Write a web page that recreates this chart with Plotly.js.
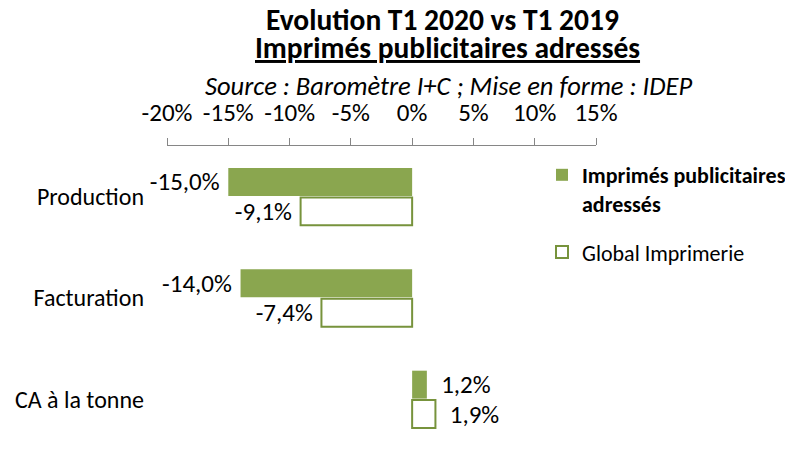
<!DOCTYPE html>
<html>
<head>
<meta charset="utf-8">
<script src="https://cdn.plot.ly/plotly-3.0.1.min.js"></script>
<style>html,body{margin:0;padding:0;background:#fff;}#chart{width:785px;height:450px;}</style>
</head>
<body>
<div id="chart"></div>
<script>
// ---- data ----
const categories = ["Production", "Facturation", "CA à la tonne"];
const seriesNames = ["Imprimés publicitaires adressés", "Global Imprimerie"];
const imprimesValues = [-15.0, -14.0, 1.2];
const globalValues = [-9.1, -7.4, 1.9];
const xTickVals = [-20, -15, -10, -5, 0, 5, 10, 15];
const xTickText = ["-20%", "-15%", "-10%", "-5%", "0%", "5%", "10%", "15%"];
const titleLines = ["Evolution T1 2020 vs T1 2019", "Imprimés publicitaires adressés", "Source : Baromètre I+C ; Mise en forme : IDEP"];

const FONT = "Carlito, Calibri, Lato, sans-serif";
const GREEN = "#8aa64f";
const GREEN_LINE = "#77933c";
const AXIS = "#868686";
const xMin = -20, xMax = 15;
const W = 785, H = 450, ML = 167, MR = 189, MT = 146, MB = 0;
const plotW = W - ML - MR, plotH = H - MT - MB;
const px2x = p => (p - ML) / plotW;
const py2y = p => (H - MB - p) / plotH;

const NB = '\u00a0';
const fmt = v => {
  const s = v.toFixed(1).replace('.', ',') + '%';
  return v < 0 ? s + NB : NB + NB + s;
};

const traces = [
  {
    type: 'bar', orientation: 'h',
    y: categories, x: imprimesValues,
    name: '<b>Imprimés publicitaires<br>adressés</b>',
    legendgroup: 'a',
    marker: {color: GREEN, line: {color: GREEN, width: 0}},
    text: imprimesValues.map(fmt), textposition: 'outside', constraintext: 'none',
    textfont: {family: FONT, size: 25, color: '#000'},
    cliponaxis: false, hoverinfo: 'skip'
  },
  {
    type: 'bar', orientation: 'h',
    y: categories, x: globalValues,
    name: 'Global Imprimerie',
    legendgroup: 'b',
    marker: {color: '#ffffff', line: {color: GREEN_LINE, width: 2}},
    text: globalValues.map(fmt), textposition: 'outside', constraintext: 'none',
    textfont: {family: FONT, size: 25, color: '#000'},
    cliponaxis: false, hoverinfo: 'skip'
  }
];

const zeroPos = (0 - xMin) / (xMax - xMin);

const layout = {
  width: W, height: H,
  margin: {l: ML, r: MR, t: MT, b: MB, pad: 0, autoexpand: false},
  paper_bgcolor: '#fff', plot_bgcolor: 'rgba(0,0,0,0)',
  font: {family: FONT, size: 20, color: '#000'},
  barmode: 'group', bargap: 0.42, bargroupgap: 0.05,
  showlegend: true,
  legend: {
    x: px2x(542), xanchor: 'left',
    y: py2y(154), yanchor: 'top',
    font: {family: FONT, size: 22, color: '#000'},
    traceorder: 'grouped', tracegroupgap: 17, valign: 'top',
    bgcolor: 'rgba(0,0,0,0)', borderwidth: 0
  },
  xaxis: {
    side: 'top', range: [xMin, xMax], type: 'linear',
    tickvals: xTickVals, ticktext: xTickText,
    ticks: 'outside', ticklen: 7, tickcolor: AXIS, tickwidth: 1,
    showline: true, linecolor: AXIS, linewidth: 1.3,
    showgrid: false, zeroline: false,
    ticklabelstandoff: 7,
    tickfont: {family: FONT, size: 25, color: '#000'},
    fixedrange: true
  },
  yaxis: {
    type: 'category', categoryarray: categories, categoryorder: 'array',
    range: [2.5, -0.5], autorange: false,
    showline: false, ticks: '', showgrid: false, zeroline: false,
    ticklabelstandoff: 22,
    tickfont: {family: FONT, size: 24, color: '#000'},
    fixedrange: true
  },
  yaxis2: {
    overlaying: 'y', anchor: 'free', position: zeroPos, side: 'left',
    type: 'linear', range: [2.5, -0.5], autorange: false,
    tickvals: [0.5, 1.5, 2.5], ticks: 'outside', ticklen: 8, tickcolor: AXIS, tickwidth: 1,
    showticklabels: false, showline: true, linecolor: AXIS, linewidth: 1.5,
    showgrid: false, zeroline: false, fixedrange: true
  },
  annotations: [
    {text: '<b>' + titleLines[0] + '</b>', xref: 'paper', yref: 'paper', x: px2x(442), y: py2y(20),
     xanchor: 'center', yanchor: 'middle', showarrow: false, font: {family: FONT, size: 29.5, color: '#000'}},
    {text: '<b><span style="text-decoration:underline">' + titleLines[1] + '</span></b>', xref: 'paper', yref: 'paper', x: px2x(447), y: py2y(48),
     xanchor: 'center', yanchor: 'middle', showarrow: false, font: {family: FONT, size: 29.5, color: '#000'}},
    {text: '<i>' + titleLines[2] + '</i>', xref: 'paper', yref: 'paper', x: px2x(448), y: py2y(86),
     xanchor: 'center', yanchor: 'middle', showarrow: false, font: {family: FONT, size: 26.5, color: '#000'}}
  ]
};

Plotly.newPlot('chart', traces, layout, {staticPlot: true, displayModeBar: false});
</script>
</body>
</html>
